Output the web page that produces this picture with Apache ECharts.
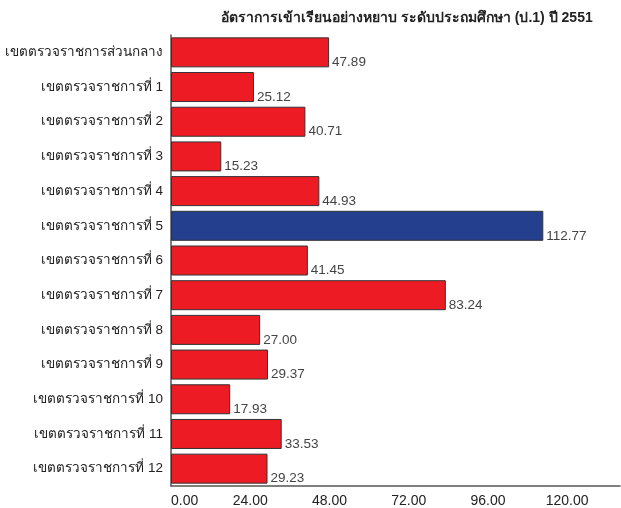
<!DOCTYPE html>
<html>
<head>
<meta charset="utf-8">
<script src="https://cdn.jsdelivr.net/npm/echarts@6/dist/echarts.min.js"></script>
<style>
    html, body { margin: 0; padding: 0; background: #fff; }
    #main { width: 621px; height: 508px; }
</style>
</head>
<body>
<div id="main"></div>
<script>
var titleText = 'อัตราการเข้าเรียนอย่างหยาบ ระดับประถมศึกษา (ป.1) ปี 2551';
var categories = ['เขตตรวจราชการส่วนกลาง', 'เขตตรวจราชการที่ 1', 'เขตตรวจราชการที่ 2', 'เขตตรวจราชการที่ 3',
    'เขตตรวจราชการที่ 4', 'เขตตรวจราชการที่ 5', 'เขตตรวจราชการที่ 6', 'เขตตรวจราชการที่ 7',
    'เขตตรวจราชการที่ 8', 'เขตตรวจราชการที่ 9', 'เขตตรวจราชการที่ 10', 'เขตตรวจราชการที่ 11',
    'เขตตรวจราชการที่ 12'];
var values = [47.89, 25.12, 40.71, 15.23, 44.93, 112.77, 41.45, 83.24, 27.00, 29.37, 17.93, 33.53, 29.23];
var highlight = 'เขตตรวจราชการที่ 5';

var chart = echarts.init(document.getElementById('main'));
var option = {
    backgroundColor: '#fff',
    animation: false,
    title: {
        text: titleText,
        left: 216,
        top: 6,
        textStyle: { fontSize: 14, fontWeight: 'bold', color: '#222', fontFamily: 'sans-serif' }
    },
    grid: { left: 171, right: 1, top: 35, bottom: 22, containLabel: false, outerBoundsMode: 'none' },
    xAxis: {
        type: 'value',
        min: 0,
        max: 136,
        interval: 24,
        splitLine: { show: false },
        axisTick: { show: false },
        axisLine: { show: true, lineStyle: { color: '#555', width: 1.5 } },
        axisLabel: {
            color: '#222', fontSize: 14, margin: 8,
            formatter: function (v) { return v.toFixed(2); },
            showMaxLabel: false,
            alignMinLabel: 'left'
        }
    },
    yAxis: {
        type: 'category',
        inverse: true,
        data: categories,
        axisTick: { show: false },
        axisLine: { show: true, lineStyle: { color: '#555', width: 1.5 } },
        axisLabel: { color: '#222', fontSize: 13.5, margin: 8 }
    },
    series: [{
        type: 'bar',
        barWidth: 30,
        data: values.map(function (v, i) {
            return {
                value: v,
                itemStyle: { color: categories[i] === highlight ? '#233F8E' : '#ED1C24' }
            };
        }),
        itemStyle: { borderColor: '#333', borderWidth: 1 },
        label: {
            show: true,
            position: 'right',
            distance: 3,
            offset: [0, 10],
            color: '#444',
            fontSize: 13.5,
            formatter: function (p) { return p.value.toFixed(2); }
        }
    }]
};
chart.setOption(option);
</script>
</body>
</html>
